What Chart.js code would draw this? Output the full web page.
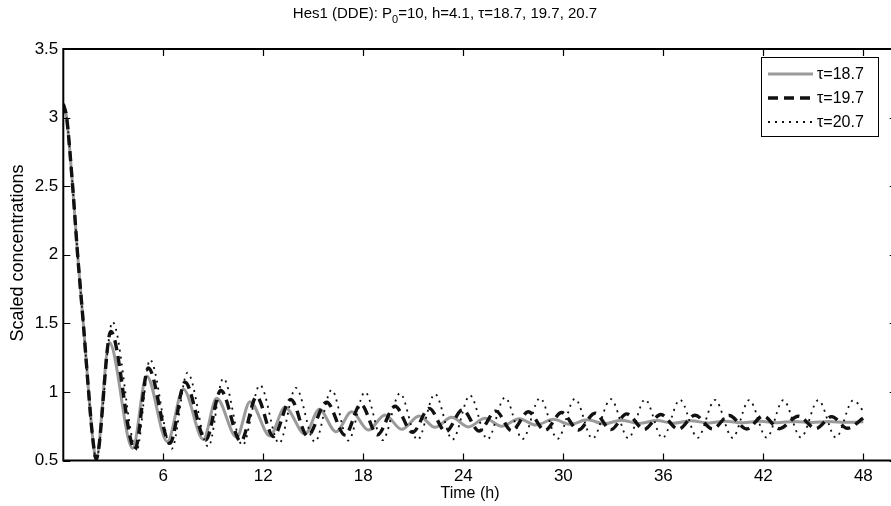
<!DOCTYPE html>
<html>
<head>
<meta charset="utf-8">
<script src="https://cdn.jsdelivr.net/npm/chart.js@4.4.1/dist/chart.umd.min.js"></script>
<style>
  html, body { margin: 0; padding: 0; background: #fff; overflow: hidden; }
</style>
</head>
<body>
<canvas id="hesChart" width="900" height="506"></canvas>
<script>
// values (time in h, scaled concentration)
const tTau187 = [0, 0.2, 0.56, 0.86, 1.2, 1.52, 1.75, 1.97,
  2.76, 4.16, 5.0, 6.24, 7.2, 8.4, 9.2, 10.4, 11.2, 12.4,
  13.3, 14.5, 15.36, 16.36, 17.3, 18.3, 19.3, 20.3, 21.35, 22.3,
  23.3, 24.3, 25.3, 26.3, 27.35, 28.35, 29.4, 30.4, 31.45, 32.45,
  33.5, 34.55, 35.6, 36.6, 37.65, 38.7, 39.7, 40.75, 41.8, 42.8,
  43.85, 44.9, 45.9, 46.95, 48];
const vTau187 = [3.1, 3.0, 2.5, 2.0, 1.5, 1.0, 0.68, 0.51,
  1.36, 0.59, 1.116, 0.637, 1.019, 0.654, 0.953, 0.669, 0.929, 0.679,
  0.888, 0.693, 0.873, 0.71, 0.856, 0.722, 0.832, 0.727, 0.825, 0.742,
  0.815, 0.745, 0.808, 0.75, 0.805, 0.758, 0.8, 0.764, 0.797, 0.768,
  0.794, 0.77, 0.791, 0.772, 0.789, 0.774, 0.787, 0.775, 0.786, 0.776,
  0.785, 0.777, 0.784, 0.778, 0.782];

const tTau197 = [0, 0.2, 0.56, 0.86, 1.2, 1.52, 1.75, 1.97,
  2.85, 4.3, 5.1, 6.4, 7.3, 8.55, 9.45, 10.65, 11.6, 12.6,
  13.65, 14.65, 15.8, 16.9, 17.85, 18.85, 19.9, 20.95, 21.95, 22.95,
  23.95, 24.95, 25.95, 26.9, 27.9, 28.9, 29.9, 30.9, 31.9, 32.85,
  33.8, 34.85, 35.85, 36.9, 37.9, 38.95, 39.95, 41.0, 42.0, 42.95,
  44.1, 45.15, 46.1, 47.05, 48];
const vTau197 = [3.1, 3.0, 2.5, 2.0, 1.5, 1.0, 0.68, 0.51,
  1.44, 0.58, 1.175, 0.625, 1.07, 0.65, 1.01, 0.64, 0.965, 0.675,
  0.945, 0.68, 0.925, 0.685, 0.91, 0.688, 0.895, 0.705, 0.88, 0.71,
  0.87, 0.715, 0.86, 0.717, 0.855, 0.72, 0.85, 0.722, 0.845, 0.725,
  0.84, 0.727, 0.835, 0.728, 0.83, 0.73, 0.828, 0.73, 0.825, 0.732,
  0.823, 0.733, 0.82, 0.735, 0.81];

const tTau207 = [0, 0.2, 0.56, 0.86, 1.2, 1.52, 1.75, 1.97,
  2.95, 4.4, 5.2, 6.5, 7.45, 8.7, 9.6, 10.75, 11.8, 12.95,
  13.95, 15.1, 16.1, 17.1, 18.1, 19.15, 20.2, 21.25, 22.3, 23.35,
  24.4, 25.45, 26.5, 27.55, 28.6, 29.65, 30.7, 31.75, 32.85, 33.9,
  34.9, 35.95, 37.0, 38.05, 39.1, 40.15, 41.15, 42.2, 43.2, 44.25,
  45.3, 46.35, 47.4, 48];
const vTau207 = [3.1, 3.0, 2.5, 2.0, 1.5, 1.0, 0.68, 0.51,
  1.51, 0.575, 1.235, 0.585, 1.14, 0.6, 1.1, 0.61, 1.05, 0.625,
  1.03, 0.635, 1.015, 0.645, 1.0, 0.648, 0.99, 0.65, 0.985, 0.652,
  0.975, 0.655, 0.96, 0.656, 0.955, 0.658, 0.95, 0.66, 0.948, 0.662,
  0.945, 0.664, 0.943, 0.665, 0.942, 0.666, 0.94, 0.667, 0.94, 0.668,
  0.94, 0.668, 0.94, 0.86];

const seriesLabels = ['\u03c4=18.7', '\u03c4=19.7', '\u03c4=20.7'];
const xTicks = [6, 12, 18, 24, 30, 36, 42, 48];
const yTicks = [0.5, 1, 1.5, 2, 2.5, 3, 3.5];

const FONT = '"Liberation Sans", Arial, Helvetica, sans-serif';

function toPoints(ts, vs) {
  return ts.map((t, i) => ({ x: t, y: vs[i] }));
}

// axes box, inward ticks, titles and legend (matlab look)
const matlabFrame = {
  id: 'matlabFrame',
  afterDraw(chart) {
    const { ctx, chartArea: a, scales: { x, y } } = chart;
    ctx.save();

    ctx.strokeStyle = '#000';
    ctx.lineWidth = 1.2;
    ctx.beginPath();
    x.ticks.forEach(t => {
      const px = Math.round(x.getPixelForValue(t.value)) + 0.5;
      ctx.moveTo(px, a.bottom); ctx.lineTo(px, a.bottom - 7);
      ctx.moveTo(px, a.top); ctx.lineTo(px, a.top + 7);
    });
    y.ticks.forEach(t => {
      const py = Math.round(y.getPixelForValue(t.value)) + 0.5;
      ctx.moveTo(a.left, py); ctx.lineTo(a.left + 7, py);
      ctx.moveTo(a.right, py); ctx.lineTo(a.right - 7, py);
    });
    ctx.stroke();

    ctx.lineWidth = 2;
    ctx.strokeRect(a.left, a.top, a.right - a.left, a.bottom - a.top);

    // title with subscript
    ctx.fillStyle = '#000';
    ctx.textBaseline = 'alphabetic';
    ctx.textAlign = 'left';
    const big = '15px ' + FONT, small = '11px ' + FONT;
    const p1 = 'Hes1 (DDE): P', p2 = '0', p3 = '=10, h=4.1, \u03c4=18.7, 19.7, 20.7';
    ctx.font = big; const w1 = ctx.measureText(p1).width, w3 = ctx.measureText(p3).width;
    ctx.font = small; const w2 = ctx.measureText(p2).width;
    let tx = 445 - (w1 + w2 + w3) / 2;
    ctx.font = big; ctx.fillText(p1, tx, 18); tx += w1;
    ctx.font = small; ctx.fillText(p2, tx, 23); tx += w2;
    ctx.font = big; ctx.fillText(p3, tx, 18);

    // axis titles
    ctx.textAlign = 'center';
    ctx.textBaseline = 'middle';
    ctx.font = '16px ' + FONT;
    ctx.fillText('Time (h)', 470, 494);
    ctx.save();
    ctx.translate(18, 253);
    ctx.rotate(-Math.PI / 2);
    ctx.font = '18px ' + FONT;
    ctx.fillText('Scaled concentrations', 0, 0);
    ctx.restore();

    // legend box
    const bx = 761, by = 57, bw = 117, bh = 79;
    ctx.fillStyle = '#fff';
    ctx.fillRect(bx, by, bw, bh);
    ctx.lineWidth = 1;
    ctx.strokeStyle = '#000';
    ctx.setLineDash([]);
    ctx.strokeRect(bx + 0.5, by + 0.5, bw, bh);
    chart.data.datasets.forEach((ds, i) => {
      const ly = 74 + i * 24;
      ctx.save();
      ctx.strokeStyle = ds.borderColor;
      ctx.lineWidth = ds.borderWidth;
      ctx.setLineDash(ds.borderDash || []);
      ctx.beginPath();
      ctx.moveTo(768, ly); ctx.lineTo(813, ly);
      ctx.stroke();
      ctx.restore();
      ctx.fillStyle = '#000';
      ctx.textAlign = 'left';
      ctx.textBaseline = 'middle';
      ctx.font = '16px ' + FONT;
      ctx.fillText(ds.label, 817, ly + 1);
    });

    ctx.restore();
  }
};

const ctx = document.getElementById('hesChart').getContext('2d');
new Chart(ctx, {
  type: 'line',
  data: {
    datasets: [
      {
        label: seriesLabels[0],
        data: toPoints(tTau187, vTau187),
        borderColor: '#9a9a9a',
        borderWidth: 3,
        order: 3
      },
      {
        label: seriesLabels[1],
        data: toPoints(tTau197, vTau197),
        borderColor: '#111',
        borderWidth: 3.4,
        borderDash: [10, 6],
        order: 2
      },
      {
        label: seriesLabels[2],
        data: toPoints(tTau207, vTau207),
        borderColor: '#111',
        borderWidth: 1.8,
        borderDash: [2, 5],
        order: 1
      }
    ]
  },
  options: {
    responsive: false,
    animation: false,
    devicePixelRatio: 1,
    layout: { padding: { top: 49, right: 3.3, left: 0, bottom: 0 } },
    elements: {
      point: { radius: 0 },
      line: { cubicInterpolationMode: 'monotone', fill: false }
    },
    plugins: {
      legend: { display: false },
      title: { display: false },
      tooltip: { enabled: false }
    },
    scales: {
      x: {
        type: 'linear',
        min: 0,
        max: 50,
        grid: { display: false, drawTicks: false },
        border: { display: false },
        afterBuildTicks: scale => { scale.ticks = xTicks.map(v => ({ value: v })); },
        afterFit: scale => { scale.height = 45.5; },
        ticks: {
          autoSkip: false,
          maxRotation: 0,
          padding: 6,
          color: '#000',
          font: { family: FONT, size: 17 },
          callback: v => String(v)
        }
      },
      y: {
        min: 0.5,
        max: 3.5,
        grid: { display: false, drawTicks: false },
        border: { display: false },
        afterBuildTicks: scale => { scale.ticks = yTicks.map(v => ({ value: v })); },
        afterFit: scale => { scale.width = 63.3; },
        ticks: {
          autoSkip: false,
          padding: 5,
          color: '#000',
          font: { family: FONT, size: 17 },
          callback: v => String(v)
        }
      }
    }
  },
  plugins: [matlabFrame]
});
</script>
</body>
</html>
